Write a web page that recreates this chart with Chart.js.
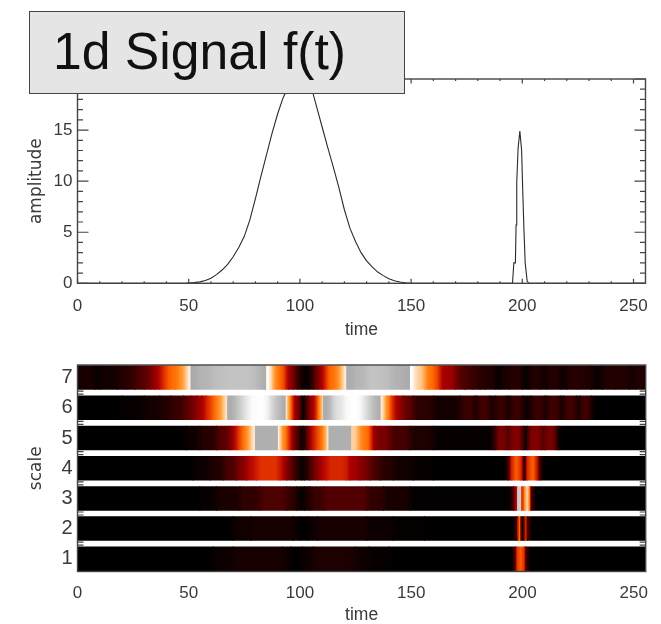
<!DOCTYPE html>
<html><head><meta charset="utf-8">
<script src="https://cdn.jsdelivr.net/npm/chart.js@4"></script>
<style>
html,body{margin:0;padding:0;background:#fff;width:661px;height:624px;overflow:hidden}
canvas{position:absolute;left:0;filter:blur(0.45px)}
#c1{top:0}#c2{top:340px}
#title{position:absolute;left:29px;top:11px;width:374px;height:81px;box-sizing:content-box;background:#e5e5e5;border:1.5px solid #444;font:51.7px "Liberation Sans",Arial,sans-serif;color:#111;line-height:78px;padding:0;white-space:nowrap;text-indent:23px;filter:blur(0.3px)}
</style></head><body>
<canvas id="c1" width="661" height="340"></canvas>
<canvas id="c2" width="661" height="284"></canvas>
<div id="title">1d Signal f(t)</div>
<script>
const timeTicks = [0,50,100,150,200,250];
const timeMinorTicks = [10,20,30,40,60,70,80,90,110,120,130,140,160,170,180,190,210,220,230,240];
const ampTicks = [0,5,10,15,20];
const ampMinorTicks = [1,2,3,4,6,7,8,9,11,12,13,14,16,17,18,19];
const scaleTicks = [1,2,3,4,5,6,7];
const gapMarks = [1.5,2.5,3.5,4.5,5.5,6.5];

const signalTimes  = [0,48,50,52.5,55,57.5,60,62.5,65,67.5,70,72.5,75,77.5,80,82.5,85,87.5,90,92.5,95,97.5,100,102.5,105,107.5,110,112.5,115,117.5,120,122.5,125,127.5,130,132.5,135,137.5,140,142.5,145,147.5,150,195.6,196.2,196.9,197.2,197.5,198.1,198.9,199.7,200.1,200.7,201.3,202.2,203,255];
const signalValues = [0,0,0.03,0.07,0.14,0.28,0.5,0.85,1.3,1.85,2.6,3.5,4.6,6.2,8.3,10.5,12.6,14.7,16.6,18.2,19.3,20.1,20.4,20.1,19.3,17.3,15.3,13.3,11.4,9.4,7.2,5.4,4.1,3,2.2,1.6,1.1,0.75,0.45,0.25,0.12,0.05,0,0,2,2,5.7,9.8,13.2,14.9,13,9.8,5.5,2,0.2,0,0];

/* each band: cell end times and the level of that cell (0-100 heat, 150+ grey) */
const scale7Ends = [8,10,18,22,26,30,33,35,37,39,41,44,46,48,49.5,51,54,60,66,78,81,84,85,86.5,88,90,92,93.5,95,97,99,101,104,106,108,110,112,114,117,119,120.5,121,124,130,136,141,146,149.7,151,153,156,158,161,163,165,170,174,178,181,183,188,190,194,200,203,208,211,217,220,225,231,236,242,248,251,256];
const scale7Levels = [10,2,8,14,20,27,33,42,48,56,64,70,74,80,88,97,170,180,190,195,190,178,172,99,90,78,70,64,52,42,30,15,2,15,32,44,55,68,73,82,93,99,172,182,195,190,178,172,100,93,88,76,70,62,50,46,30,24,20,16,14,2,10,16,2,14,8,14,5,16,14,4,14,14,8,14];
const scale6Ends = [20,30,37,42,47.6,51,53.6,56,58,61,64,66,67.5,70,72,74.6,77,79,85,87,89.5,92,93.8,94.6,96.3,97.7,100.7,102,103.7,106,108,109.7,110.5,113,115,119.5,122,127,129,131.5,134,136.5,137.5,139,141,143.5,146.5,151,160,172,178.7,179.5,185.4,187.7,193,194.4,200.4,204,210,211,217,218.4,224.4,225.9,231,256];
const scale6Levels = [0,3,8,14,22,30,38,46,52,62,74,84,94,172,185,205,230,248,254,235,205,185,172,94,76,55,38,2,24,42,56,78,92,172,190,225,248,255,240,215,190,175,95,84,72,55,44,32,18,8,22,10,24,10,22,10,22,4,22,8,24,8,24,8,24,0];
const scale5Ends = [49,55,62.5,68.5,71.5,74.5,77.5,79.5,80,90.3,91,92.5,94.8,97,100,101.5,103.3,106,109.7,112,113,123.2,126.2,129.2,132,133.7,140.5,149.5,160,187.5,193,194.4,200.4,202.2,208.6,210,215.4,216.5,256];
const scale5Levels = [0,6,16,30,46,64,78,92,98,175,97,84,72,52,30,6,20,46,64,80,96,175,90,76,70,50,38,25,12,3,38,28,40,5,40,28,38,10,0];
const scale4Ends = [52,59.6,65.5,71.5,76,80.5,91,94,98,100.8,102,104.5,108,112,121,122.5,127,131.5,136,142,151,160,193.7,195.2,199.3,200.5,201.2,202.3,206.8,208,256];
const scale4Levels = [0,5,13,26,40,52,60,50,32,12,2,16,34,50,58,52,47,38,26,16,7,2,0,46,68,50,3,50,68,38,0];
const scale3Ends = [55,62.5,73,82,94,98.5,102,104.5,110.5,130,137.5,149.5,196,197.8,199.6,201,203.2,204,256];
const scale3Levels = [0,3,11,20,27,20,3,10,22,28,20,10,1,50,205,62,92,55,0];
const scale2Ends = [70,78,97,100,103.5,108,130,142,156,197.4,198,199.4,200.6,202.3,256];
const scale2Levels = [0,7,9,5,0,6,10,5,2,0,42,70,1,58,0];
const scale1Ends = [61,70,92,96,101,106,125,131,140,196.8,197.8,200.8,201.6,256];
const scale1Levels = [0,5,10,6,1,6,12,6,3,0,55,68,50,0];

const bands = [[1,scale1Ends,scale1Levels],[2,scale2Ends,scale2Levels],[3,scale3Ends,scale3Levels],[4,scale4Ends,scale4Levels],[5,scale5Ends,scale5Levels],[6,scale6Ends,scale6Levels],[7,scale7Ends,scale7Levels]];

const heatStops = [[0,0,0,0],[20,48,0,0],[40,128,0,0],[50,176,0,0],[60,224,48,0],[70,255,106,0],[80,255,154,48],[90,255,208,160],[100,255,255,255]];
function heat(v){
  if(v>=150){const g=Math.round(v);return `rgb(${g},${g},${g})`;}
  for(let i=1;i<heatStops.length;i++){
    const a=heatStops[i-1],b=heatStops[i];
    if(v<=b[0]){const f=(v-a[0])/(b[0]-a[0]);
      return `rgb(${Math.round(a[1]+f*(b[1]-a[1]))},${Math.round(a[2]+f*(b[2]-a[2]))},${Math.round(a[3]+f*(b[3]-a[3]))})`;}
  }
  return '#fff';
}
/* soft edge between neighbouring cells, hard edge between the heat and grey ranges */
function edgeLevel(a,b){
  if(b===undefined) return a;
  return (a>=150)===(b>=150) ? (a+b)/2 : a;
}
const softWidth = 2;
function cellFill(levels){
  return c=>{
    const ch=c.chart, raw=c.raw;
    if(!raw||!ch.scales.x||!ch.chartArea) return heat(levels[c.dataIndex]||0);
    const i=c.dataIndex, v=levels[i];
    const x0=ch.scales.x.getPixelForValue(raw.x[0]), x1=ch.scales.x.getPixelForValue(raw.x[1]);
    const g=ch.ctx.createLinearGradient(x0,0,x1,0);
    const f=Math.min(0.5,softWidth/(raw.x[1]-raw.x[0]));
    g.addColorStop(0,heat(edgeLevel(v,levels[i-1])));
    g.addColorStop(f,heat(v));
    g.addColorStop(1-f,heat(v));
    g.addColorStop(1,heat(edgeLevel(v,levels[i+1])));
    return g;
  };
}

const ink='#3a3a3a';
const tickFont={family:'"Liberation Sans",sans-serif',size:17};
const bandTickFont={family:'"Liberation Sans",sans-serif',size:20};
const xTitleFont={family:'"Liberation Sans",sans-serif',size:17.5};
const yTitleFont={family:'"DejaVu Sans",sans-serif',size:17};

function insideTicks(ctx,area,x,y,o){
  ctx.save();ctx.strokeStyle='#444';ctx.lineWidth=1.2;ctx.beginPath();
  const vt=(list,len)=>list.forEach(v=>{const p=x.getPixelForValue(v);
    ctx.moveTo(p,area.bottom);ctx.lineTo(p,area.bottom-len);ctx.moveTo(p,area.top);ctx.lineTo(p,area.top+len);});
  const ht=(list,len)=>list.forEach(v=>{const p=y.getPixelForValue(v);
    ctx.moveTo(area.left,p);ctx.lineTo(area.left+len,p);ctx.moveTo(area.right,p);ctx.lineTo(area.right-len,p);});
  if(o.ticks){vt(timeTicks,4.5);vt(timeMinorTicks,2);ht(ampTicks,11);ht(ampMinorTicks,5.5);}
  if(o.gaps){gapMarks.forEach(v=>{const p=y.getPixelForValue(v);
    [-1.5,1.5].forEach(d=>{ctx.moveTo(area.left,p+d);ctx.lineTo(area.left+6,p+d);ctx.moveTo(area.right,p+d);ctx.lineTo(area.right-6,p+d);});});}
  ctx.stroke();
  ctx.lineWidth=1.4;ctx.strokeStyle='#444';
  ctx.strokeRect(area.left,area.top,area.right-area.left,area.bottom-area.top);
  ctx.restore();
}
const frame=o=>({id:'frame',afterDatasetsDraw(c){insideTicks(c.ctx,c.chartArea,c.scales.x,c.scales.y,o);}});

function xAxis(h,titlePad,labelPad){return{
  type:'linear',min:0,max:255.4,offset:false,
  afterBuildTicks:s=>{s.ticks=timeTicks.map(v=>({value:v}));},
  afterFit:s=>{s.height=h;},
  grid:{display:false,drawTicks:false},border:{display:false},
  ticks:{autoSkip:false,maxRotation:0,color:ink,font:tickFont,padding:labelPad},
  title:{display:true,text:'time',color:ink,font:xTitleFont,padding:{top:0,bottom:titlePad}}
};}
function yAxis(text,min,max,list,tf){return{
  type:'linear',min,max,offset:false,
  afterBuildTicks:s=>{s.ticks=list.map(v=>({value:v}));},
  afterFit:s=>{s.width=77.5;},
  grid:{display:false,drawTicks:false},border:{display:false},
  ticks:{autoSkip:false,color:ink,font:tf,padding:5},
  title:{display:true,text,color:ink,font:yTitleFont,padding:{top:26,bottom:0}}
};}

new Chart(document.getElementById('c1'),{
  type:'line',
  data:{datasets:[{data:signalTimes.map((t,i)=>({x:t,y:signalValues[i]})),borderColor:'#2a2a2a',borderWidth:1.1,pointRadius:0,tension:0,fill:false}]},
  options:{responsive:false,animation:false,
    layout:{padding:{top:79,right:15.3,left:0,bottom:0}},
    plugins:{legend:{display:false},tooltip:{enabled:false}},
    scales:{x:xAxis(56.7,-0.5,13),y:yAxis('amplitude',0,20,ampTicks,tickFont)}},
  plugins:[frame({ticks:true})]
});

const bandSets=bands.map(([k,ends,levels])=>({
  data:ends.map((e,i)=>({x:[i?ends[i-1]:0,e],y:k})),
  backgroundColor:cellFill(levels),
  borderWidth:0,barThickness:23.5,inflateAmount:0.5
}));
new Chart(document.getElementById('c2'),{
  type:'bar',
  data:{datasets:bandSets},
  options:{responsive:false,animation:false,indexAxis:'y',
    datasets:{bar:{grouped:false}},
    layout:{padding:{top:25,right:15.3,left:0,bottom:0}},
    plugins:{legend:{display:false},tooltip:{enabled:false}},
    scales:{x:xAxis(52.5,-1.5,12),y:yAxis('scale',0.58,7.418,scaleTicks,bandTickFont)}},
  plugins:[frame({gaps:true})]
});
</script>
</body></html>
